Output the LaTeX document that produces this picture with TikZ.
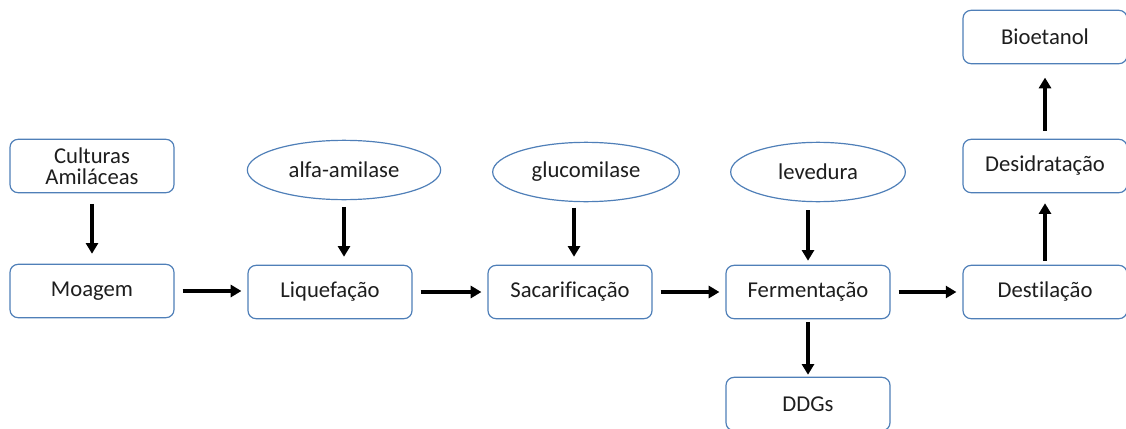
\documentclass[tikz,border=0pt]{standalone}
\usepackage{fontspec}
\setmainfont{Carlito}[Ligatures=NoCommon]
\usetikzlibrary{arrows.meta,shapes.geometric,positioning}
\definecolor{cStageL}{HTML}{4F7FB8}
\definecolor{cText}{HTML}{1E1E1E}
\tikzset{
  stage/.style={draw=cStageL,rounded corners=6pt,align=center,fill=white,
      font=\fontsize{17}{19}\selectfont,text=cText,line width=0.9pt,
      minimum width=123pt,minimum height=40pt,inner sep=2pt},
  enzyme/.style={ellipse,draw=cStageL,fill=white,line width=0.9pt,
      font=\fontsize{17}{19}\selectfont,text=cText,
      minimum width=142pt,minimum height=44.5pt,inner sep=1pt},
  flow/.style={-{Triangle[length=8pt,width=9pt]},line width=2.8pt,draw=black},
}
\begin{document}
\begin{tikzpicture}[x=0.75pt,y=-0.75pt]
  \useasboundingbox (0,0) rectangle (1126,428);

  \node[stage] (cult) at (92,166) {Culturas\\[-3pt]Amiláceas};
  \node[stage] (moag) at (92,291) {Moagem};
  \node[stage] (liq) at (330,292) {Liquefação};
  \node[stage] (sac) at (570,292) {Sacarificação};
  \node[stage] (ferm) at (808,292) {Fermentação};
  \node[stage] (dest) at (1045,292) {Destilação};
  \node[stage] (desid) at (1045,166) {Desidratação};
  \node[stage] (bio) at (1045,37) {Bioetanol};
  \node[stage] (ddgs) at (808,404) {DDGs};

  \node[enzyme,minimum width=145pt] (alfa) at (344,170) {alfa-amilase};
  \node[enzyme,minimum width=140pt] (gluco) at (586,172) {glucomilase};
  \node[enzyme,minimum width=131pt] (leve) at (818,172) {levedura};

  \draw[flow,shorten <=8pt,shorten >=7.5pt] (cult) -- (moag);
  \draw[flow,shorten <=6pt,shorten >=4.5pt] (moag.east) -- (moag.east -| liq.west);
  \draw[flow,shorten <=6pt,shorten >=4.5pt] (liq) -- (sac);
  \draw[flow,shorten <=6pt,shorten >=4.5pt] (sac) -- (ferm);
  \draw[flow,shorten <=6pt,shorten >=4.5pt] (ferm) -- (dest);
  \draw[flow,shorten <=5pt,shorten >=6pt] (alfa.south) -- (alfa.south |- liq.north);
  \draw[flow,shorten <=4pt,shorten >=6pt] ([xshift=-9]gluco.south) -- ([xshift=-9]gluco.south |- sac.north);
  \draw[flow,shorten <=6pt,shorten >=3pt] (leve.south -| ferm) -- (ferm);
  \draw[flow,shorten <=2pt,shorten >=1.5pt] (ferm) -- (ddgs);
  \draw[flow,shorten <=3pt,shorten >=7.5pt] (dest) -- (desid);
  \draw[flow,shorten <=6pt,shorten >=10pt] (desid) -- (bio);
\end{tikzpicture}
\end{document}
